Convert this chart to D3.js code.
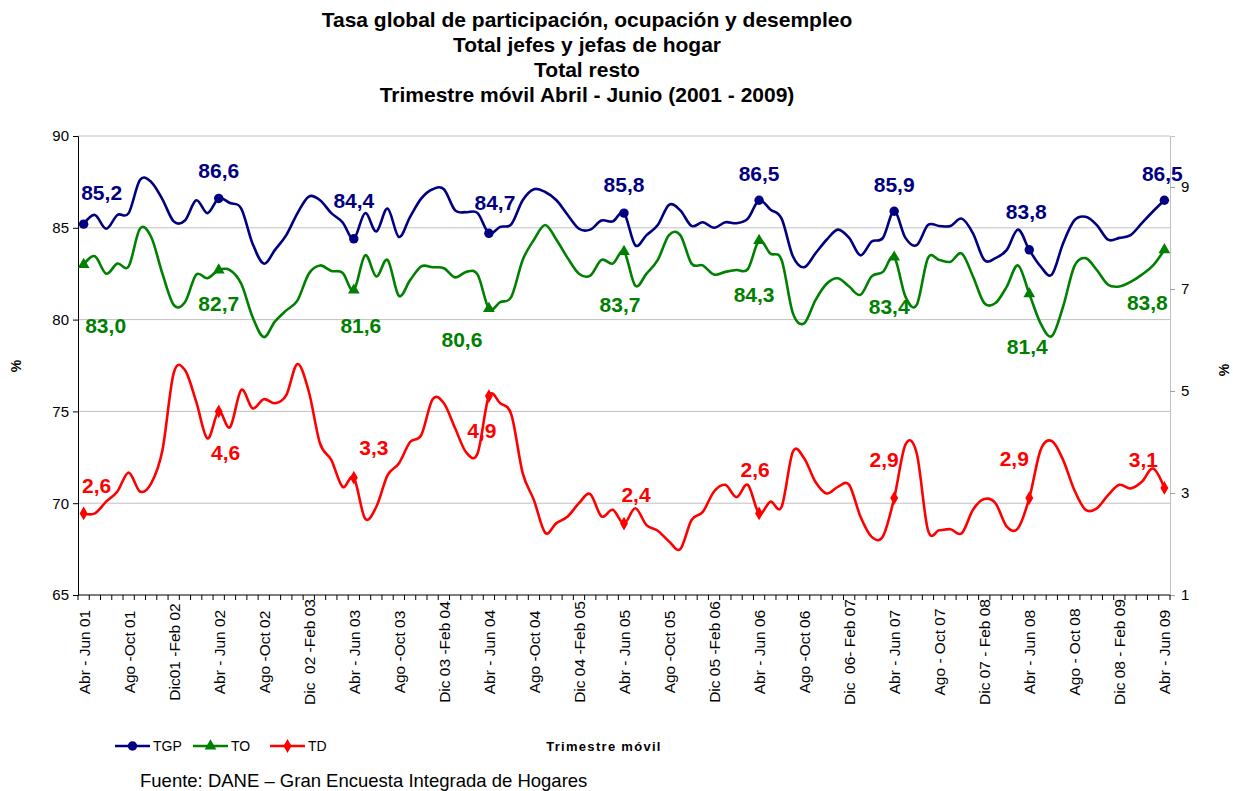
<!DOCTYPE html>
<html>
<head>
<meta charset="utf-8">
<script src="https://cdn.jsdelivr.net/npm/d3@7/dist/d3.min.js"></script>
<style>
body{margin:0;background:#fff;}
svg text{font-family:Arial,"Liberation Sans",sans-serif;}
</style>
</head>
<body>
<div id="chart_div"></div>
<script>

// moving quarters Abr-Jun 01 ... Abr-Jun 09 (97 periods), labels every 4th one
let tickLabels = ["Abr - Jun 01","Ago -Oct 01","Dic01 -Feb 02","Abr - Jun 02","Ago -Oct 02","Dic  02 -Feb 03",
  "Abr - Jun 03","Ago -Oct 03","Dic 03 -Feb 04","Abr - Jun 04","Ago -Oct 04","Dic 04 -Feb 05",
  "Abr - Jun 05","Ago -Oct 05","Dic 05 -Feb 06","Abr - Jun 06","Ago -Oct 06","Dic  06- Feb 07",
  "Abr - Jun 07","Ago - Oct 07","Dic 07 - Feb 08","Abr - Jun 08","Ago - Oct 08","Dic 08 - Feb 09","Abr - Jun 09"]

let tgp = [85.2,85.7,84.95,85.7,85.8,87.6,87.5,86.55,85.35,85.4,86.5,85.8,
  86.6,86.35,86.05,84.15,83.05,83.8,84.6,85.8,86.7,86.5,85.8,85.3,
  84.4,85.8,84.8,86.05,84.5,85.6,86.6,87.1,87.1,85.95,85.85,85.8,
  84.7,85.05,85.2,86.5,87.1,86.95,86.5,85.7,84.95,84.9,85.4,85.35,
  85.8,84.05,84.6,85.15,86.25,85.95,85.1,85.3,85.0,85.3,85.25,85.5,
  86.5,86.0,85.5,83.45,82.85,83.6,84.35,84.9,84.45,83.5,84.25,84.45,
  85.9,84.45,84.05,85.15,85.1,85.1,85.5,84.7,83.25,83.35,83.8,84.9,
  83.8,82.9,82.45,84.15,85.4,85.6,85.15,84.35,84.45,84.6,85.25,85.9,
  86.5]

let to = [83.0,83.45,82.5,83.05,82.9,84.95,84.5,82.5,80.8,80.95,82.45,82.25,
  82.7,82.7,81.95,80.15,79.05,79.9,80.5,81.05,82.5,82.95,82.65,82.55,
  81.6,83.5,82.35,83.25,81.3,82.15,82.9,82.85,82.8,82.3,82.6,82.45,
  80.6,80.95,81.25,83.25,84.35,85.15,84.35,83.35,82.5,82.4,83.25,83.05,
  83.7,81.85,82.5,83.25,84.6,84.6,83.05,82.95,82.45,82.6,82.7,82.75,
  84.3,83.6,83.25,80.35,79.8,81.05,81.95,82.25,81.8,81.35,82.35,82.6,
  83.4,81.25,80.8,83.35,83.25,83.15,83.6,82.35,80.9,80.9,81.8,82.95,
  81.4,79.8,79.1,80.7,82.9,83.35,82.7,81.9,81.8,82.05,82.45,82.95,
  83.8]

let td = [2.6,2.6,2.83,3.03,3.4,3.03,3.19,3.84,5.35,5.41,4.79,4.07,
  4.6,4.29,5.02,4.66,4.84,4.76,4.92,5.53,4.99,3.97,3.65,3.12,
  3.3,2.5,2.73,3.35,3.58,4.0,4.14,4.84,4.76,4.27,3.79,3.78,
  4.9,4.76,4.53,3.39,2.86,2.22,2.41,2.54,2.8,2.98,2.54,2.67,
  2.4,2.7,2.37,2.26,2.05,1.9,2.47,2.63,3.03,3.16,2.92,3.16,
  2.6,2.83,2.73,3.81,3.68,3.22,2.99,3.12,3.16,2.54,2.14,2.15,
  2.9,3.95,3.78,2.27,2.27,2.29,2.21,2.67,2.88,2.8,2.34,2.31,
  2.9,3.84,4.02,3.65,3.06,2.67,2.7,2.96,3.16,3.09,3.22,3.48,
  3.1]

let leftTicks = [65,70,75,80,85,90]
let rightTicks = [1,3,5,7,9]

let titleLines = ["Tasa global de participación, ocupación y desempleo","Total jefes y jefas de hogar",
  "Total resto","Trimestre móvil Abril - Junio (2001 - 2009)"]

let width = 1233;
let height = 791;
let plot = {left:78, right:1170, top:136, bottom:595};

// label placement relative to the marked Abr-Jun points
let tgpNudge = [[18,-31],[0,-28],[0,-38],[6,-31],[0,-28],[0,-27],[0,-27],[-3,-38],[-2,-27]];
let toNudge = [[22,61],[0,34],[7,35],[-27,31],[-4,53],[-5,54],[-5,49],[-2,53],[-17,53]];
let tdNudge = [[13,-28],[7,41],[20,-30],[-7,35],[12,-29],[-4,-44],[-10,-38],[-15,-39],[-21,-28]];

window.onload = function(){
  draw();
};

function draw(){

  let svg = d3.select("#chart_div").append("svg")
    .attr("width", width)
    .attr("height", height);

  let idx = d3.range(tgp.length);

  let x = d3.scalePoint()
    .domain(idx)
    .range([plot.left, plot.right])
    .padding(0.5);

  let yL = d3.scaleLinear().domain([65,90]).range([plot.bottom, plot.top]);
  let yR = d3.scaleLinear().domain([1,10]).range([plot.bottom, plot.top]);

  // gridlines
  svg.append("g")
    .selectAll("line")
    .data(leftTicks.slice(1))
    .join("line")
      .attr("x1", plot.left).attr("x2", plot.right)
      .attr("y1", d => yL(d)).attr("y2", d => yL(d))
      .attr("stroke", "#c0c0c0").attr("stroke-width", 1);

  // title
  svg.append("g")
    .selectAll("text")
    .data(titleLines)
    .join("text")
      .attr("x", 587)
      .attr("y", (d,i) => 27 + i*25)
      .attr("text-anchor", "middle")
      .style("font-size", "21px")
      .style("font-weight", "bold")
      .text(d => d);

  // left axis
  let gl = svg.append("g")
    .attr("transform", "translate(" + plot.left + ",0)")
    .call(d3.axisLeft(yL).tickValues(leftTicks).tickSize(5).tickPadding(4));
  gl.select(".domain").attr("stroke", "#000");
  gl.selectAll("text").style("font-size", "15px").attr("fill", "#000");

  // right axis (TD)
  let gr = svg.append("g")
    .attr("transform", "translate(" + plot.right + ",0)")
    .call(d3.axisRight(yR).tickValues(rightTicks).tickSize(5).tickPadding(6));
  gr.select(".domain").attr("stroke", "#c0c0c0");
  gr.selectAll(".tick line").attr("stroke", "#a0a0a0");
  gr.selectAll("text").style("font-size", "15px").attr("fill", "#000");

  // bottom axis, labels every 4 periods
  let gx = svg.append("g")
    .attr("transform", "translate(0," + plot.bottom + ")")
    .call(d3.axisBottom(x)
      .tickValues(d3.range(0, idx.length, 4))
      .tickFormat(i => tickLabels[i/4])
      .tickSize(0));
  gx.select(".domain").remove();
  gx.selectAll("text")
    .attr("transform", "rotate(-90)")
    .attr("x", -57)
    .attr("y", 0)
    .attr("dy", "0.35em")
    .style("text-anchor", "middle")
    .style("white-space", "pre")
    .style("font-size", "15.5px")
    .attr("fill", "#000");

  svg.append("line")
    .attr("x1", plot.left).attr("x2", plot.right)
    .attr("y1", plot.bottom).attr("y2", plot.bottom)
    .attr("stroke", "#000");

  // tick marks between every category
  let step = x.step();
  svg.append("g")
    .selectAll("line")
    .data(d3.range(idx.length + 1))
    .join("line")
      .attr("x1", d => plot.left + d*step).attr("x2", d => plot.left + d*step)
      .attr("y1", plot.bottom).attr("y2", plot.bottom + 5)
      .attr("stroke", "#000");

  // axis titles
  svg.append("text")
    .attr("transform", "translate(21,366) rotate(-90)")
    .attr("text-anchor", "middle")
    .style("font-size", "14px").style("font-weight", "bold")
    .text("%");
  svg.append("text")
    .attr("transform", "translate(1229,370) rotate(-90)")
    .attr("text-anchor", "middle")
    .style("font-size", "14px").style("font-weight", "bold")
    .text("%");

  let series = [
    {name:"TGP", values:tgp, y:yL, color:"#000080", shape:d3.symbolCircle, size:70, nudge:tgpNudge},
    {name:"TO", values:to, y:yL, color:"#008000", shape:d3.symbolTriangle, size:60, nudge:toNudge},
    {name:"TD", values:td, y:yR, color:"#ff0000", shape:d3.symbolDiamond, size:55, nudge:tdNudge}
  ];

  let marked = d3.range(0, idx.length, 12);
  let fmt = v => d3.format(".1f")(v).replace(".", ",");

  series.forEach(s => {

    svg.append("path")
      .datum(s.values)
      .attr("fill", "none")
      .attr("stroke", s.color)
      .attr("stroke-width", 2.6)
      .attr("d", d3.line()
        .curve(d3.curveCatmullRom.alpha(0))
        .x((d,i) => x(i))
        .y(d => s.y(d)));

    svg.append("g")
      .selectAll("path")
      .data(marked)
      .join("path")
        .attr("transform", i => "translate(" + x(i) + "," + s.y(s.values[i]) + ")")
        .attr("d", d3.symbol().type(s.shape).size(s.size))
        .attr("fill", s.color);

    svg.append("g")
      .selectAll("text")
      .data(marked)
      .join("text")
        .attr("x", (i,k) => x(i) + s.nudge[k][0])
        .attr("y", (i,k) => s.y(s.values[i]) + s.nudge[k][1])
        .attr("dy", "0.35em")
        .attr("text-anchor", "middle")
        .style("font-size", "21px")
        .style("font-weight", "bold")
        .attr("fill", s.color)
        .text(i => fmt(s.values[i]));
  });

  // legend
  let leg = svg.append("g").attr("transform", "translate(115,746)");
  series.forEach((s, k) => {
    let off = [0, 78, 155][k];
    leg.append("line")
      .attr("x1", off).attr("x2", off + 35)
      .attr("y1", 0).attr("y2", 0)
      .attr("stroke", s.color).attr("stroke-width", 2.6);
    leg.append("path")
      .attr("transform", "translate(" + (off + 17.5) + ",0)")
      .attr("d", d3.symbol().type(s.shape).size(s.size))
      .attr("fill", s.color);
    leg.append("text")
      .attr("x", off + 38).attr("y", 0).attr("dy", "0.35em")
      .style("font-size", "14px")
      .text(s.name);
  });

  svg.append("text")
    .attr("x", 604).attr("y", 746).attr("dy", "0.35em")
    .attr("text-anchor", "middle")
    .style("font-size", "13px").style("font-weight", "bold")
    .style("letter-spacing", "1.3px")
    .text("Trimestre móvil");

  svg.append("text")
    .attr("x", 140).attr("y", 781).attr("dy", "0.35em")
    .style("font-size", "18.5px")
    .text("Fuente: DANE – Gran Encuesta Integrada de Hogares");
}

</script>
</body>
</html>
